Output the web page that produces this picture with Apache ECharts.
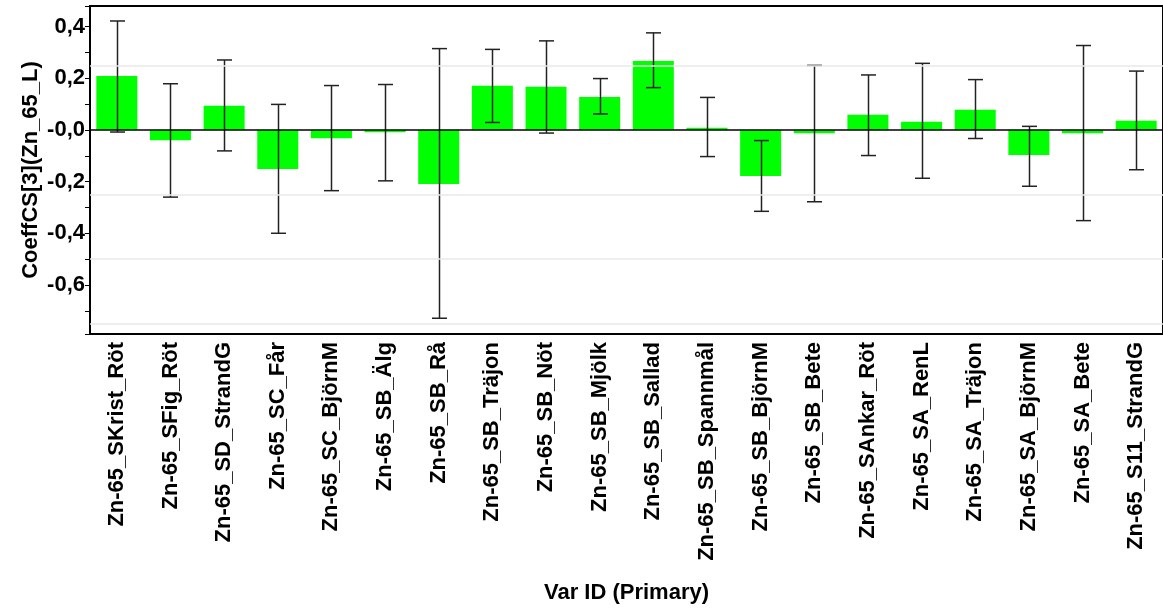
<!DOCTYPE html>
<html>
<head>
<meta charset="utf-8">
<script src="https://cdn.jsdelivr.net/npm/echarts@6/dist/echarts.min.js"></script>
<style>
html,body{margin:0;padding:0;background:#fff;}
#chart{width:1163px;height:609px;}
</style>
</head>
<body>
<div id="chart"></div>
<script>
const categories = [
  "Zn-65_SKrist_Röt","Zn-65_SFig_Röt","Zn-65_SD_StrandG","Zn-65_SC_Får","Zn-65_SC_BjörnM",
  "Zn-65_SB_Älg","Zn-65_SB_Rå","Zn-65_SB_Träjon","Zn-65_SB_Nöt","Zn-65_SB_Mjölk",
  "Zn-65_SB_Sallad","Zn-65_SB_Spannmål","Zn-65_SB_BjörnM","Zn-65_SB_Bete","Zn-65_SAnkar_Röt",
  "Zn-65_SA_RenL","Zn-65_SA_Träjon","Zn-65_SA_BjörnM","Zn-65_SA_Bete","Zn-65_S11_StrandG"
];
const coeffValues = [0.209,-0.040,0.094,-0.151,-0.032,-0.009,-0.209,0.171,0.167,0.128,
                     0.267,0.009,-0.178,-0.013,0.059,0.032,0.078,-0.097,-0.013,0.036];
const errLow  = [-0.008,-0.260,-0.081,-0.400,-0.235,-0.197,-0.729,0.029,-0.012,0.062,
                 0.164,-0.103,-0.315,-0.278,-0.099,-0.187,-0.033,-0.218,-0.351,-0.154];
const errHigh = [0.422,0.179,0.271,0.099,0.172,0.176,0.315,0.312,0.345,0.199,
                 0.376,0.126,-0.041,0.250,0.213,0.258,0.195,0.014,0.327,0.228];
const gridLineValues = [0.25,-0.25,-0.5,-0.75];
const yMin = -0.79, yMax = 0.48;

const FONT = "Liberation Sans";
const chart = echarts.init(document.getElementById('chart'), null, {renderer:'canvas'});

function fmt(v){
  if (Math.abs(v) < 1e-9) return '-0,0';
  const s = Math.abs(v).toFixed(1).replace('.', ',');
  return (v < 0 ? '-' : '') + s;
}

const errData = categories.map((c,i)=>[i, errLow[i], errHigh[i]]);

chart.setOption({
  animation:false,
  backgroundColor:'#fff',
  grid:{left:90, top:6, width:1080, height:331, show:true, borderColor:'#000', borderWidth:2, backgroundColor:'transparent'},
  xAxis:{
    type:'category', data:categories,
    name:'Var ID (Primary)', nameLocation:'middle', nameGap:248,
    nameTextStyle:{fontFamily:FONT, fontWeight:'bold', fontSize:22, color:'#000'},
    axisLine:{show:true, onZero:false, lineStyle:{color:'#000', width:2}},
    axisTick:{show:false},
    axisLabel:{rotate:90, interval:0, margin:8, fontFamily:FONT, fontWeight:'bold', fontSize:22, color:'#000'},
    splitLine:{show:false}
  },
  yAxis:{
    type:'value', min:yMin, max:yMax, splitNumber:6,
    name:'CoeffCS[3](Zn_65_L)', nameLocation:'middle', nameGap:48, nameRotate:90,
    nameMoveOverlap:false,
    nameTextStyle:{fontFamily:FONT, fontWeight:'bold', fontSize:22, color:'#000'},
    axisLine:{show:true, lineStyle:{color:'#000', width:2}},
    axisTick:{show:true, length:5, lineStyle:{color:'#000', width:1}},
    minorTick:{show:true, splitNumber:2, length:5, lineStyle:{color:'#000', width:1}},
    axisLabel:{formatter:fmt, showMinLabel:false, showMaxLabel:false, margin:5,
               fontFamily:FONT, fontWeight:'bold', fontSize:22, color:'#000'},
    splitLine:{show:false}
  },
  series:[
    {
      type:'scatter', data:[], z:1, silent:true,
      markLine:{silent:true, symbol:'none', label:{show:false}, animation:false,
        lineStyle:{color:'#e8e8e8', width:1.5, type:'solid'},
        data:gridLineValues.map(v=>({yAxis:v}))}
    },
    {
      type:'bar', data:coeffValues, barWidth:41, z:2,
      itemStyle:{color:'#00ff00'}
    },
    {
      type:'scatter', data:[], z:3, silent:true,
      markLine:{silent:true, symbol:'none', label:{show:false}, animation:false,
        lineStyle:{color:'#000', width:1.5, type:'solid'},
        data:[{yAxis:0}]}
    },
    {
      type:'custom', z:4, silent:true,
      encode:{x:0, y:[1,2]},
      data:errData,
      renderItem:function(params, api){
        const i = api.value(0);
        const lo = api.coord([i, api.value(1)]);
        const hi = api.coord([i, api.value(2)]);
        const x = Math.round(hi[0]) + 0.5;
        const hw = 7.5;
        const style = {stroke:'#222', lineWidth:1.5};
        return {type:'group', children:[
          {type:'line', shape:{x1:x, y1:hi[1], x2:x, y2:lo[1]}, style:style},
          {type:'line', shape:{x1:x-hw, y1:hi[1], x2:x+hw, y2:hi[1]}, style:style},
          {type:'line', shape:{x1:x-hw, y1:lo[1], x2:x+hw, y2:lo[1]}, style:style}
        ]};
      }
    }
  ]
});
</script>
</body>
</html>
